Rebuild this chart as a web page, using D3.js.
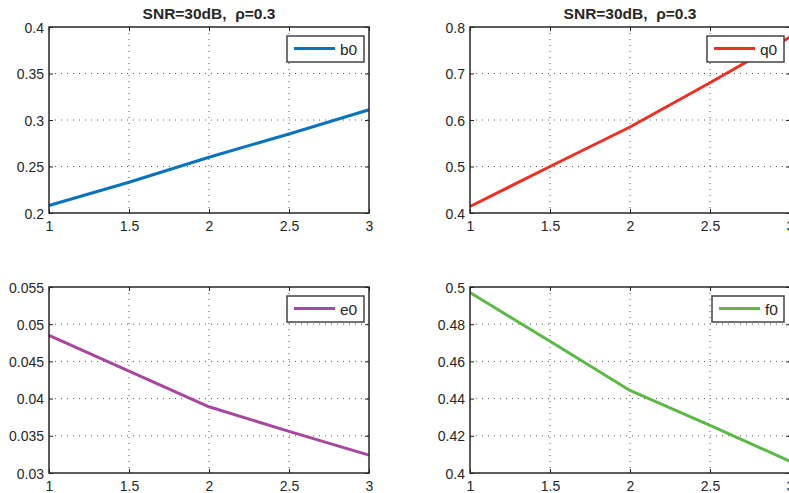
<!DOCTYPE html>
<html>
<head>
<meta charset="utf-8">
<script src="https://cdn.jsdelivr.net/npm/d3@7"></script>
<style>
  html, body { margin: 0; padding: 0; background: #fff; overflow: hidden; }
  svg { display: block; font-family: "Liberation Sans", Arial, Helvetica, sans-serif; }
  .grid line { stroke: #555; stroke-width: 1; stroke-dasharray: 1 5; }
  .tick-label { font-size: 14px; fill: #262626; }
  .title { font-size: 15.5px; font-weight: bold; fill: #262626; }
  .legend-text { font-size: 15.5px; fill: #262626; }
</style>
</head>
<body>
<div id="chart"></div>
<script>
const xValues = [1, 1.5, 2, 2.5, 3];
const xTicks = [1, 1.5, 2, 2.5, 3];

const b0 = [0.208, 0.233, 0.260, 0.285, 0.311];
const q0 = [0.414, 0.500, 0.585, 0.680, 0.778];
const e0 = [0.0485, 0.0437, 0.0389, 0.0356, 0.0324];
const f0 = [0.497, 0.4708, 0.4444, 0.4256, 0.4063];

const b0Ticks = [0.2, 0.25, 0.3, 0.35, 0.4];
const q0Ticks = [0.4, 0.5, 0.6, 0.7, 0.8];
const e0Ticks = [0.03, 0.035, 0.04, 0.045, 0.05, 0.055];
const f0Ticks = [0.4, 0.42, 0.44, 0.46, 0.48, 0.5];

const titleText = 'SNR=30dB,  \u03c1=0.3';

const width = 789;
const height = 493;

const svg = d3.select('#chart')
  .append('svg')
  .attr('width', width)
  .attr('height', height);

const panels = [
  { name: 'b0', values: b0, ticks: b0Ticks, color: '#0b72bd', left: 49, top: 27, title: true, legendLeft: 287 },
  { name: 'q0', values: q0, ticks: q0Ticks, color: '#ed2f24', left: 470, top: 27, title: true, legendLeft: 707 },
  { name: 'e0', values: e0, ticks: e0Ticks, color: '#a7479d', left: 49, top: 287, title: false, legendLeft: 287 },
  { name: 'f0', values: f0, ticks: f0Ticks, color: '#5cb946', left: 470, top: 287, title: false, legendLeft: 712 },
];

const plotW = 320;
const plotH = 186;
const axisColor = '#262626';

function fmt(v) {
  return String(+v.toFixed(4));
}

function drawPanel(p) {
  const x = d3.scaleLinear().domain([xTicks[0], xTicks[xTicks.length - 1]]).range([p.left, p.left + plotW]);
  const y = d3.scaleLinear().domain([p.ticks[0], p.ticks[p.ticks.length - 1]]).range([p.top + plotH, p.top]);
  const g = svg.append('g').attr('class', `panel panel-${p.name}`);

  // dotted grid
  const grid = g.append('g').attr('class', 'grid');
  grid.selectAll('line.gx')
    .data(xTicks.slice(1, -1))
    .join('line')
    .attr('class', 'gx')
    .attr('x1', (d) => x(d)).attr('x2', (d) => x(d))
    .attr('y1', p.top).attr('y2', p.top + plotH);
  grid.selectAll('line.gy')
    .data(p.ticks.slice(1, -1))
    .join('line')
    .attr('class', 'gy')
    .attr('y1', (d) => y(d)).attr('y2', (d) => y(d))
    .attr('x1', p.left).attr('x2', p.left + plotW);

  // data line
  const line = d3.line().x((d, i) => x(xValues[i])).y((d) => y(d));
  g.append('path')
    .datum(p.values)
    .attr('fill', 'none')
    .attr('stroke', p.color)
    .attr('stroke-width', 3)
    .attr('stroke-linejoin', 'round')
    .attr('d', line);

  // axes (ticks drawn inward, MATLAB style)
  const xAxis = d3.axisBottom(x).tickValues(xTicks).tickSize(-4).tickFormat(fmt);
  const yAxis = d3.axisLeft(y).tickValues(p.ticks).tickSize(-4).tickFormat(fmt);
  const xTop = d3.axisTop(x).tickValues(xTicks).tickSize(-4).tickFormat('');
  const yRight = d3.axisRight(y).tickValues(p.ticks).tickSize(-4).tickFormat('');

  const styleAxis = (sel) => {
    sel.select('.domain').remove();
    sel.selectAll('.tick line').attr('stroke', axisColor).attr('stroke-width', 1);
    sel.selectAll('.tick text').attr('class', 'tick-label').attr('font-size', null).attr('font-family', null);
  };

  g.append('g').attr('transform', `translate(0,${p.top + plotH})`).call(xAxis).call(styleAxis)
    .selectAll('.tick text').attr('dy', null).attr('y', 18);
  g.append('g').attr('transform', `translate(${p.left},0)`).call(yAxis).call(styleAxis)
    .selectAll('.tick text').attr('x', -5).attr('dy', '0.36em');
  g.append('g').attr('transform', `translate(0,${p.top})`).call(xTop).call(styleAxis);
  g.append('g').attr('transform', `translate(${p.left + plotW},0)`).call(yRight).call(styleAxis);

  g.append('rect')
    .attr('x', p.left).attr('y', p.top)
    .attr('width', plotW).attr('height', plotH)
    .attr('fill', 'none')
    .attr('stroke', axisColor)
    .attr('stroke-width', 1.5);

  if (p.title) {
    g.append('text')
      .attr('class', 'title')
      .attr('x', p.left + plotW / 2)
      .attr('y', p.top - 8)
      .attr('text-anchor', 'middle')
      .style('white-space', 'pre')
      .text(titleText);
  }

  // legend
  const lg = g.append('g').attr('transform', `translate(${p.legendLeft},${p.top + 9})`);
  const lw = p.name === 'f0' ? 72 : 77;
  lg.append('rect')
    .attr('width', lw).attr('height', 26)
    .attr('fill', '#fff')
    .attr('stroke', '#444')
    .attr('stroke-width', 1.5);
  lg.append('line')
    .attr('x1', 7).attr('x2', 48)
    .attr('y1', 12.5).attr('y2', 12.5)
    .attr('stroke', p.color)
    .attr('stroke-width', 3);
  lg.append('text')
    .attr('class', 'legend-text')
    .attr('x', 53)
    .attr('y', 19)
    .text(p.name);
}

panels.forEach(drawPanel);
</script>
</body>
</html>
